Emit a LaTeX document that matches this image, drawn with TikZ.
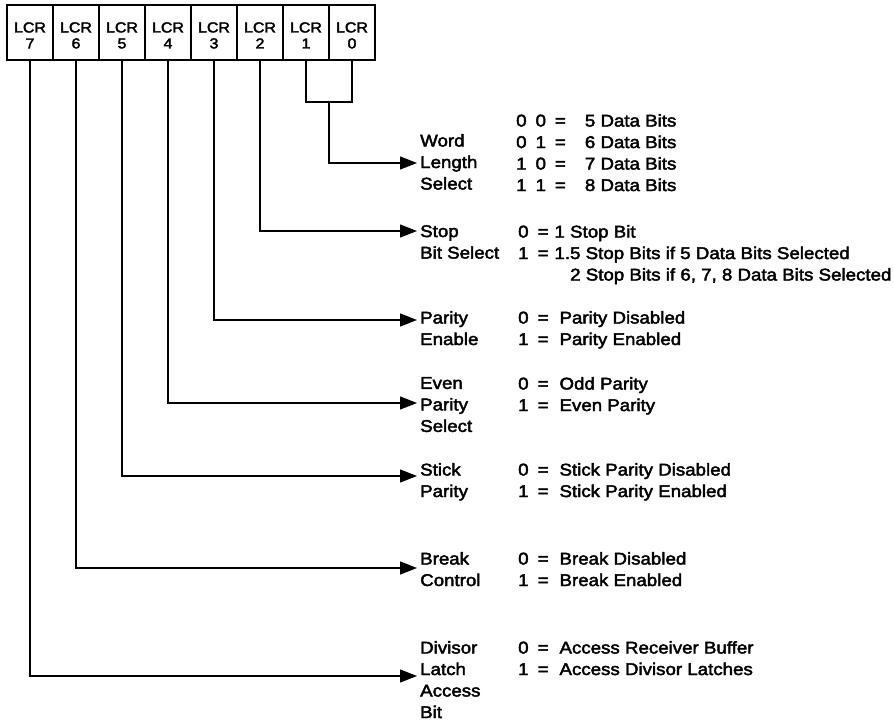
\documentclass[tikz,border=0pt]{standalone}
\usepackage{fontspec}
\usepackage{tikz}
\usetikzlibrary{arrows.meta}
\newfontfamily\lcrfont{Liberation Sans}[FakeStretch=1.1,FakeBold=2.5]

\begin{document}
\begin{tikzpicture}[x=1pt,y=-1pt,
    bitbox/.style={draw,line width=1.3pt,minimum width=46pt,minimum height=55pt,inner sep=0pt,align=center,font=\lcrfont\fontsize{14.5}{16}\selectfont},
    wire/.style={line width=1.3pt},
    sig/.style={wire,-{Triangle[length=17pt,width=13pt]},shorten >=3pt},
    txt/.style={anchor=north west,inner sep=0pt,align=left,font=\lcrfont\fontsize{17}{21.5}\selectfont}]
    \useasboundingbox (0,0) rectangle (894,722);

    % Register bits
    \node[bitbox] (lcr7) at (30,32.5) {\rule{0pt}{16pt}LCR\\7};
    \node[bitbox] (lcr6) at (76,32.5) {\rule{0pt}{16pt}LCR\\6};
    \node[bitbox] (lcr5) at (122,32.5) {\rule{0pt}{16pt}LCR\\5};
    \node[bitbox] (lcr4) at (168,32.5) {\rule{0pt}{16pt}LCR\\4};
    \node[bitbox] (lcr3) at (214,32.5) {\rule{0pt}{16pt}LCR\\3};
    \node[bitbox] (lcr2) at (260,32.5) {\rule{0pt}{16pt}LCR\\2};
    \node[bitbox] (lcr1) at (306,32.5) {\rule{0pt}{16pt}LCR\\1};
    \node[bitbox] (lcr0) at (352,32.5) {\rule{0pt}{16pt}LCR\\0};

    % Word length select
    \coordinate (wl) at (329,102);
    \draw[wire] (lcr1.south) |- (wl) -| (lcr0.south);
    \node[txt] (wls) at (420,134) {Word\\Length\\Select};
    \node[txt] (wlv) at (516,114) {0\hspace{9pt}0\hspace{9pt}=\hspace{19pt}5 Data Bits\\
        0\hspace{9pt}1\hspace{9pt}=\hspace{19pt}6 Data Bits\\
        1\hspace{9pt}0\hspace{9pt}=\hspace{19pt}7 Data Bits\\
        1\hspace{9pt}1\hspace{9pt}=\hspace{19pt}8 Data Bits};
    \draw[sig] (wl) |- ([yshift=-29pt]wls.north west);

    % Stop bit select
    \node[txt] (sbs) at (420,225) {Stop\\Bit Select};
    \node[txt] (sbv) at (518,225) {0\hspace{9pt}=\hspace{6pt}1 Stop Bit\\
        1\hspace{9pt}=\hspace{6pt}1.5 Stop Bits if 5 Data Bits Selected\\
        \hspace{52pt}2 Stop Bits if 6, 7, 8 Data Bits Selected};
    \draw[sig] (lcr2.south) |- ([yshift=-6pt]sbs.north west);

    % Parity enable
    \node[txt] (pen) at (420,311) {Parity\\Enable};
    \node[txt] (pev) at (518,311) {0\hspace{9pt}=\hspace{11pt}Parity Disabled\\
        1\hspace{9pt}=\hspace{11pt}Parity Enabled};
    \draw[sig] (lcr3.south) |- ([yshift=-9pt]pen.north west);

    % Even parity select
    \node[txt] (eps) at (420,377) {Even\\Parity\\Select};
    \node[txt] (epv) at (518,377) {0\hspace{9pt}=\hspace{11pt}Odd Parity\\
        1\hspace{9pt}=\hspace{11pt}Even Parity};
    \draw[sig] (lcr4.south) |- ([yshift=-26pt]eps.north west);

    % Stick parity
    \node[txt] (stp) at (420,463) {Stick\\Parity};
    \node[txt] (stv) at (518,463) {0\hspace{9pt}=\hspace{11pt}Stick Parity Disabled\\
        1\hspace{9pt}=\hspace{11pt}Stick Parity Enabled};
    \draw[sig] (lcr5.south) |- ([yshift=-13pt]stp.north west);

    % Break control
    \node[txt] (brc) at (420,552) {Break\\Control};
    \node[txt] (brv) at (518,552) {0\hspace{9pt}=\hspace{11pt}Break Disabled\\
        1\hspace{9pt}=\hspace{11pt}Break Enabled};
    \draw[sig] (lcr6.south) |- ([yshift=-16pt]brc.north west);

    % Divisor latch access bit
    \node[txt] (dlab) at (420,641) {Divisor\\Latch\\Access\\Bit};
    \node[txt] (dlv) at (518,641) {0\hspace{9pt}=\hspace{11pt}Access Receiver Buffer\\
        1\hspace{9pt}=\hspace{11pt}Access Divisor Latches};
    \draw[sig] (lcr7.south) |- ([yshift=-35pt]dlab.north west);
\end{tikzpicture}
\end{document}
